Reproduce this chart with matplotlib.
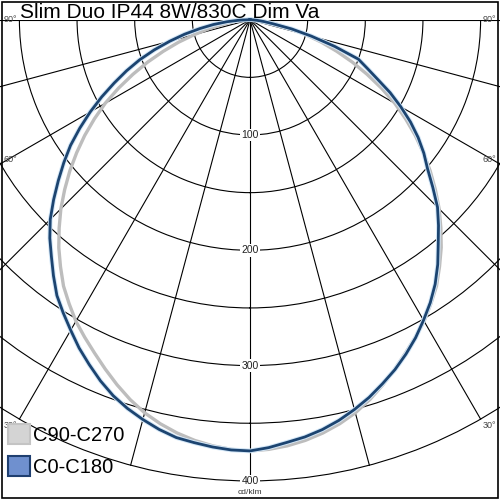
import numpy as np
import matplotlib
matplotlib.use('Agg')
import matplotlib.pyplot as plt
from matplotlib.patches import Patch, Rectangle

title = 'Slim Duo IP44 8W/830C Dim Va'
unit = 'cd/klm'

# gamma angles (deg) and intensities (cd/klm)
gamma = [0, 2.5, 5, 7.5, 10, 12.5, 15, 17.5, 20, 22.5, 25, 27.5, 30, 32.5, 35, 37.5, 40, 42.5, 45,
         47.5, 50, 52.5, 55, 57.5, 60, 62.5, 65, 67.5, 70, 72.5, 75, 77.5, 80, 82.5, 85, 87.5, 90]
c0_right = [373, 371.5, 368, 365, 361, 356, 350, 343.5, 336, 328.5, 320, 311, 301, 291, 280, 267.5,
            254, 242, 230, 215, 201, 190, 178, 165, 151, 137, 122, 110, 100, 77, 55, 37, 20, 12, 6, 2, 0]
c0_left = [374, 373.5, 372, 370, 368, 364, 359, 353.5, 347, 339, 330, 321, 311, 301.5, 292, 280,
           268, 257, 245, 231, 217, 203.5, 190, 175, 160, 145, 130, 116, 102, 87, 72, 58, 44, 32, 20, 9, 0]
c90 = [374, 373, 371, 368, 364, 359, 353, 345.5, 337, 328, 319, 310.5, 302, 292, 282, 270,
       258, 245, 232, 218, 204, 189.5, 175, 160, 145, 128.5, 112, 96, 80, 65, 50, 37, 25, 17, 10, 4, 0]

ring_values = [50, 100, 150, 200, 250, 300, 350, 400]
ring_labels = [100, 200, 300, 400]
spokes = [0, 15, 30, 45, 60, 75, 90, 270, 285, 300, 315, 330, 345]


def both_sides(left, right):
    g = np.array(gamma)
    th = np.concatenate([-g[::-1], g[1:]])
    r = np.concatenate([np.array(left)[::-1], np.array(right)[1:]])
    return np.radians(th), r


plt.rcParams['font.family'] = ['Liberation Sans', 'DejaVu Sans']

fig = plt.figure(figsize=(5, 5), dpi=100)
cy = 0.9606
ax = fig.add_axes([-0.4224, cy - 0.9224, 1.8448, 1.8448], projection='polar')
ax.set_theta_zero_location('S')
ax.set_thetagrids(spokes, labels=[''] * len(spokes))
ax.set_xlim(0, 2 * np.pi)
ax.set_ylim(0, 400)
ax.set_rticks(ring_values)
ax.set_yticklabels([])
ax.grid(True, color='black', lw=0.8)
ax.spines['polar'].set_visible(False)

# keep the grid in the lower half only
lower = Rectangle((0, 0), 1, cy, transform=fig.transFigure)
for ln in ax.get_xgridlines() + ax.get_ygridlines():
    ln.set_clip_path(lower)

# C90-C270 (grey) under C0-C180 (blue)
th, r = both_sides(c90, c90)
ax.plot(th, r, color='#bdbdbd', lw=2.4, zorder=3)
th, r = both_sides(c0_left, c0_right)
ax.plot(th, r, color='#d2e6f7', lw=3.4, zorder=4)
ax.plot(th, r, color='#1c4470', lw=2.0, zorder=5)
ax.set_xlim(0, 2 * np.pi)
ax.set_ylim(0, 400)

for v in ring_labels:
    ax.text(0, v, str(v), ha='center', va='center', fontsize=7.5, color='#222222', zorder=6,
            bbox=dict(facecolor='white', edgecolor='none', pad=1))
ax.text(0, 410, unit, ha='center', va='center', fontsize=6, color='#333333')

# angle labels at the frame
for y, lab in [(0.960, '90°'), (0.68, '60°'), (0.15, '30°')]:
    fig.text(0.008, y, lab, fontsize=6.5, color='#444444', va='center', ha='left')
    fig.text(0.992, y, lab, fontsize=6.5, color='#444444', va='center', ha='right')

fig.text(0.04, 0.964, title, fontsize=15, va='baseline', ha='left')

handles = [Patch(facecolor='#d4d4d4', edgecolor='#c4c4c4', lw=1.5, label='C90-C270'),
           Patch(facecolor='#6f90cf', edgecolor='#1f3f70', lw=1.5, label='C0-C180')]
fig.legend(handles=handles, loc='lower left', bbox_to_anchor=(0.0, 0.03), frameon=False,
           fontsize=14.5, handlelength=1.1, handleheight=1.15, handletextpad=0.15,
           labelspacing=0.55, borderaxespad=0.2, borderpad=0.2)

fig.patches.append(Rectangle((0.004, 0.004), 0.992, 0.992, transform=fig.transFigure,
                             fill=False, edgecolor='black', lw=1.2))

fig.savefig('out.png', dpi=100, facecolor='white')
